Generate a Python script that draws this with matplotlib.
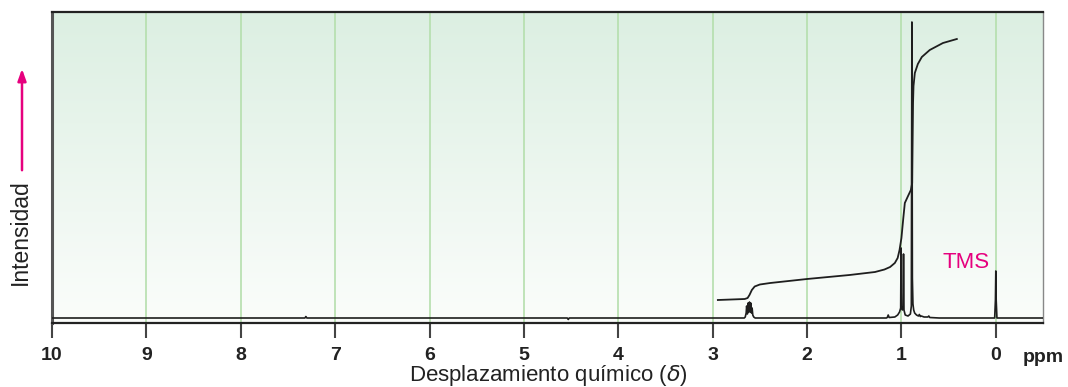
import numpy as np
import matplotlib
matplotlib.use("Agg")
import matplotlib.pyplot as plt
from matplotlib.colors import LinearSegmentedColormap

# ---- data ----
tick_values = [10, 9, 8, 7, 6, 5, 4, 3, 2, 1, 0]
tick_labels = ["10", "9", "8", "7", "6", "5", "4", "3", "2", "1", "0"]

# spectrum vertices (ppm, intensity)
spec_ppm = [10.0, 7.32, 7.31, 7.30, 4.54, 4.53, 4.52,
            2.665, 2.655, 2.645, 2.64, 2.632, 2.625, 2.618, 2.61, 2.603, 2.596, 2.589, 2.582, 2.575, 2.565, 2.55,
            1.16, 1.15, 1.14, 1.13, 1.07, 1.04, 1.02, 1.008, 1.004, 1.000, 0.99, 0.982, 0.978, 0.973, 0.96,
            0.93, 0.905, 0.895, 0.889, 0.884, 0.878, 0.87, 0.86, 0.84, 0.82, 0.81, 0.80, 0.79, 0.76, 0.72, 0.71, 0.70,
            0.60, 0.012, 0.004, 0.0, -0.004, -0.012, -0.5]
spec_int = [0, 0, 1.5, 0, 0, -1.5, 0,
            0, 1, 5, 12, 4, 15, 6, 16, 6, 15, 5, 10, 3, 1, 0,
            0, 0.5, 3, 0.5, 1, 3, 6, 10, 70, 12, 8, 10, 64, 8, 3,
            2, 4, 12, 296, 40, 14, 8, 5, 3, 2, 3.5, 1.5, 2, 1, 1, 2, 0.5,
            0, 0, 18, 47, 18, 0, 0]

# integral curve (ppm, height)
int_ppm = [2.945, 2.66, 2.63, 2.61, 2.585, 2.555, 2.50, 2.39, 2.0, 1.55, 1.28, 1.18, 1.12,
           1.07, 1.04, 1.02, 1.0, 0.98, 0.964, 0.93, 0.90, 0.886, 0.881, 0.877, 0.872,
           0.858, 0.826, 0.784, 0.70, 0.56, 0.413]
int_val = [18, 19, 20, 23, 28, 31.5, 33.5, 35, 39, 43, 46, 48.5, 51,
           55, 60, 68, 80, 100, 115, 122, 128, 135, 180, 215, 232,
           245, 254, 261, 268, 275, 279]

magenta = "#e6007e"

fig = plt.figure(figsize=(10.68, 3.87), dpi=100)
ax = fig.add_axes([52/1068, 1 - 323/387, (1043 - 52)/1068, (323 - 12)/387])

# background gradient
cmap = LinearSegmentedColormap.from_list("bg", ["#fbfdfb", "#dcefe2"])
grad = np.linspace(0, 1, 256).reshape(-1, 1)
ax.imshow(grad, extent=[10, -0.5, -5, 306], origin="lower", aspect="auto",
          cmap=cmap, zorder=0, interpolation="bicubic")

# vertical grid lines
for v in tick_values[1:]:
    ax.axvline(v, color="#b5dfad", lw=1.2, zorder=1)

ax.plot(spec_ppm, spec_int, color="#1e1e1e", lw=1.2, zorder=3)
ax.plot(int_ppm, int_val, color="#1e1e1e", lw=1.3, zorder=3)

ax.text(0.315, 55, "TMS", color=magenta, fontsize=16, ha="center", va="center",
        family="Liberation Sans")

ax.set_xlim(10, -0.5)
ax.set_ylim(-5, 306)
ax.set_yticks([])
ax.set_xticks(tick_values)
ax.set_xticklabels(tick_labels, fontsize=14, fontweight="bold", family="Liberation Sans",
                   color="#222222")
ax.tick_params(axis="x", direction="out", length=11, width=1.5, color="#444444", pad=6)

ax.spines["left"].set_color("#555555")
ax.spines["left"].set_linewidth(2.2)
ax.spines["top"].set_color("#222222")
ax.spines["top"].set_linewidth(1.6)
ax.spines["right"].set_color("#888888")
ax.spines["right"].set_linewidth(1.0)
ax.spines["bottom"].set_color("#222222")
ax.spines["bottom"].set_linewidth(1.6)

# ppm label
ax.text(1.0, -0.085, "ppm", transform=ax.transAxes, fontsize=14, fontweight="bold",
        family="Liberation Sans", ha="center", va="top", color="#222222")

fig.text(548/1068, 1 - 375/387, "Desplazamiento químico ($\\delta$)", fontsize=16,
         family="Liberation Sans", color="#222222", ha="center", va="center")

# y label with arrow
fig.text(20/1068, 1 - 232/387, "Intensidad", rotation=90, fontsize=16.5,
         family="Liberation Sans", ha="center", va="center", color="#222222")
fig.patches.append(matplotlib.patches.FancyArrowPatch(
    (22/1068, 1 - 173/387), (22/1068, 1 - 66/387), transform=fig.transFigure,
    arrowstyle="-|>,head_length=7,head_width=2.5", color=magenta, lw=1.8))

fig.savefig("out.png", dpi=100)
